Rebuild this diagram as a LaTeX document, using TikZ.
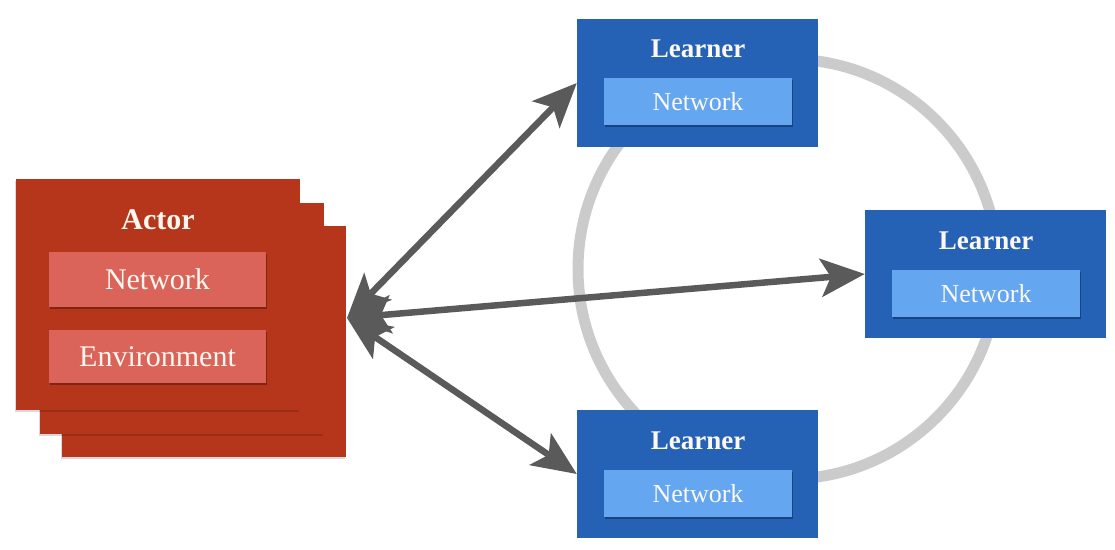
\documentclass[tikz,border=0pt]{standalone}
\usepackage{fontspec}
\setmainfont{Liberation Serif}
\usetikzlibrary{arrows.meta,shadows}
\definecolor{actred}{RGB}{182,54,27}
\definecolor{actinner}{RGB}{218,100,90}
\definecolor{lrnblue}{RGB}{37,98,182}
\definecolor{lrninner}{RGB}{100,166,240}
\definecolor{arrgray}{RGB}{90,90,90}
\definecolor{ringgray}{RGB}{203,203,203}
\definecolor{txtwhite}{RGB}{252,248,240}
\tikzset{
  actorbox/.style={fill=actred, draw=none, minimum width=284pt, minimum height=231pt, inner sep=0pt,
    drop shadow={shadow xshift=-1pt, shadow yshift=-1.5pt, opacity=0.15, fill=black}},
  actinbox/.style={fill=actinner, draw=none, minimum width=217pt, inner sep=0pt, text=txtwhite,
    font=\fontsize{30}{34}\selectfont,
    drop shadow={shadow xshift=1pt, shadow yshift=-2pt, opacity=0.3, fill=black}},
  lrnbox/.style={fill=lrnblue, draw=none, minimum width=241pt, minimum height=128pt, inner sep=0pt},
  lrninbox/.style={fill=lrninner, draw=none, minimum width=188pt, minimum height=47pt, inner sep=0pt, text=txtwhite,
    font=\fontsize{26}{30}\selectfont,
    drop shadow={shadow xshift=1pt, shadow yshift=-2pt, opacity=0.3, fill=black}},
  acttitle/.style={text=txtwhite, font=\fontsize{30}{34}\selectfont\bfseries, inner sep=0pt},
  lrntitle/.style={text=txtwhite, font=\fontsize{27}{31}\selectfont\bfseries, inner sep=0pt},
  bighead/.tip={Stealth[length=44pt,width=38pt,inset=10pt]},
  link/.style={draw=arrgray, line width=6.5pt, bighead-bighead},
  ring/.style={draw=ringgray, line width=11pt}
}
\begin{document}
\begin{tikzpicture}[x=1pt,y=-1pt]
\useasboundingbox (0,0) rectangle (1115,549);
% ring
\draw[ring] (788,269) circle[radius=210];
% actor stack
\node[actorbox] (actor3) at (204,341.5) {};
\node[actorbox] (actor2) at (181.5,318.5) {};
\node[actorbox] (actor) at (158,294.5) {};
\node[acttitle] (acttl) at (158,220) {Actor};
\node[actinbox, minimum height=55pt] (actnet) at (157.5,279.5) {Network};
\node[actinbox, minimum height=53pt] (actenv) at (157.5,356.5) {Environment};
% learners
\node[lrnbox] (L1) at (697.5,83) {};
\node[lrntitle] (L1t) at (698,49) {Learner};
\node[lrninbox] (L1n) at (698,101.5) {Network};
\node[lrnbox] (L2) at (985.5,274) {};
\node[lrntitle] (L2t) at (986,241) {Learner};
\node[lrninbox] (L2n) at (986,293.5) {Network};
\node[lrnbox] (L3) at (697.5,474) {};
\node[lrntitle] (L3t) at (698,441) {Learner};
\node[lrninbox] (L3n) at (698,493.5) {Network};
% hub
\coordinate (hub) at (347,318);
\draw[link] (hub) -- (L1.west);
\draw[link] (hub) -- (L2.west);
\draw[link] (hub) -- (L3.west);
\end{tikzpicture}
\end{document}
